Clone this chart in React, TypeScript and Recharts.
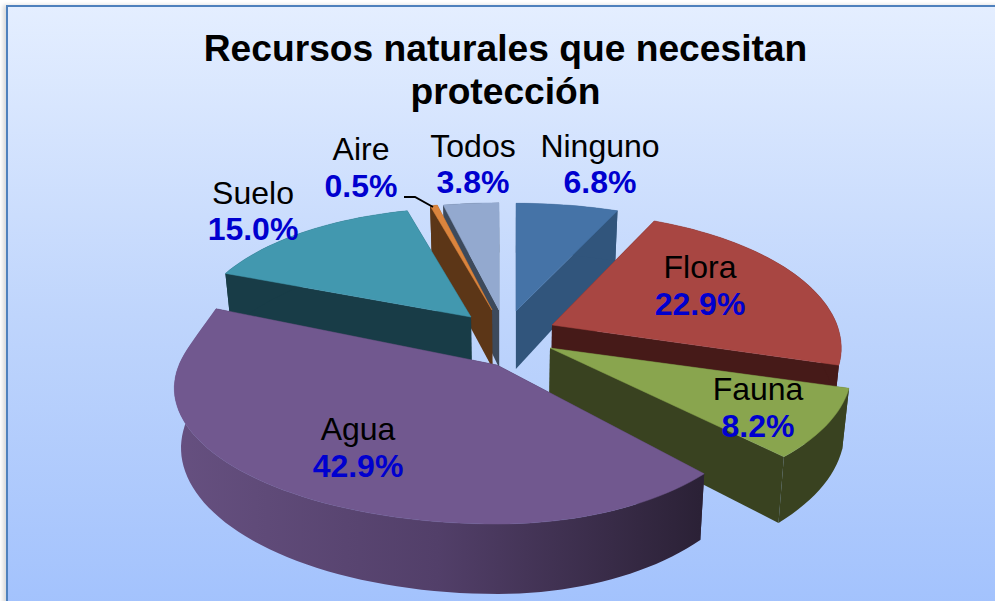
import { Pie, PieChart } from "recharts";

const backCategories = ["Todos", "Aire", "Suelo"];
const backValues = [3.8, 0.5, 15.0];
const frontCategories = ["Ninguno", "Flora", "Fauna", "Agua"];
const frontValues = [6.8, 22.9, 8.2, 42.9];

const total = [...backValues, ...frontValues].reduce((a, b) => a + b, 0);
const sweep = (values: number[]) => (360 * values.reduce((a, b) => a + b, 0)) / total;

const backData = backCategories.map((name, i) => ({ name, value: backValues[i] }));
const frontData = frontCategories.map((name, i) => ({ name, value: frontValues[i] }));

const CX = 510;
const CY = 330;
const RADIUS = 289;
const TILT = 132;
const DEPTH = 58;
const PERSPECTIVE = 0.17;

type SliceStyle = {
  top: string;
  wall: string;
  dx: number;
  dy: number;
  left: number;
  right: number;
  back?: number;
};

const sliceStyles: Record<string, SliceStyle> = {
  Ninguno: { top: "#4573a7", wall: "#31557c", dx: 6, dy: -19, left: 283, right: 283, back: 0.955 },
  Flora: { top: "#a84642", wall: "#461a18", dx: 42, dy: -5, left: 285, right: 285 },
  Fauna: { top: "#89a54e", wall: "#394220", dx: 40, dy: 18, left: 297, right: 297 },
  Agua: { top: "#71588f", wall: "#2d2338", dx: -13, dy: 35, left: 318, right: 263, back: 3.3 },
  Suelo: { top: "#4298af", wall: "#183c47", dx: -39, dy: -13, left: 278, right: 278, back: 0.97 },
  Aire: { top: "#db843d", wall: "#5c3617", dx: -18, dy: -20, left: 270, right: 270, back: 0.95 },
  Todos: { top: "#93a9cf", wall: "#3d4a5c", dx: -11, dy: -20, left: 275, right: 275, back: 0.95 },
};

const labelSpots: Record<string, { x: number; name: number; value: number }> = {
  Ninguno: { x: 600, name: 157, value: 193 },
  Todos: { x: 473, name: 157, value: 193 },
  Aire: { x: 361, name: 160, value: 197 },
  Suelo: { x: 253, name: 204, value: 240 },
  Flora: { x: 700, name: 278, value: 315 },
  Fauna: { x: 758, name: 400, value: 437 },
  Agua: { x: 358, name: 440, value: 477 },
};

function project(style: SliceStyle, angle: number, edge: number, z: number) {
  const rad = (angle * Math.PI) / 180;
  const X = Math.cos(rad) * edge;
  const Y = -Math.sin(rad) * edge;
  const s = 1 / (1 - PERSPECTIVE * Y);
  const ax = CX + style.dx;
  const ay = CY + style.dy;
  const rx = X < 0 ? style.left : style.right;
  // the back half of some slices sits a little off the plain ellipse
  const ry = Y < 0 ? TILT * (1 + ((style.back ?? 1) - 1) * Y * Y) : TILT;
  const x = ax + rx * X * s;
  const y = ay + ry * Y * s + z * DEPTH * s;
  return { x: z ? CX + (x - CX) * 0.98 : x, y };
}

function toPath(points: { x: number; y: number }[]) {
  return points.map((p, i) => `${i ? "L" : "M"}${p.x.toFixed(1)} ${p.y.toFixed(1)}`).join(" ") + " Z";
}

function Slice(props: any) {
  const { startAngle, endAngle, name } = props;
  const style = sliceStyles[name];
  const steps = Math.max(2, Math.ceil(Math.abs(endAngle - startAngle) / 2));
  const angles = Array.from({ length: steps + 1 }, (_, i) => startAngle + ((endAngle - startAngle) * i) / steps);
  const rimTop = angles.map((a) => project(style, a, 1, 0));
  const rimBottom = angles.map((a) => project(style, a, 1, 1));
  const apexTop = project(style, 0, 0, 0);
  const apexBottom = project(style, 0, 0, 1);
  const wallFill = name === "Agua" ? "url(#aguaWall)" : style.wall;
  return (
    <g>
      <path d={toPath([apexTop, rimTop[0], rimBottom[0], apexBottom])} fill={style.wall} />
      <path
        d={toPath([apexTop, rimTop[steps], rimBottom[steps], apexBottom])}
        fill={style.wall}
      />
      <path d={toPath([...rimTop, ...[...rimBottom].reverse()])} fill={wallFill} />
      <path d={toPath([apexTop, ...rimTop])} fill={style.top} stroke={style.top} strokeWidth={0.5} />
    </g>
  );
}

function SliceLabel(props: any) {
  const name = props.payload?.name ?? props.name;
  const spot = labelSpots[name];
  return (
    <g>
      {name === "Aire" && <polyline points="404,197 415,197 433,207" fill="none" stroke="#000" strokeWidth={2} />}
      <text x={spot.x} y={spot.name} textAnchor="middle" fontSize={32} fill="#000">
        {name}
      </text>
      <text x={spot.x} y={spot.value} textAnchor="middle" fontSize={32} fontWeight="bold" fill="#0000cf">
        {`${props.value.toFixed(1)}%`}
      </text>
    </g>
  );
}

export default function App() {
  return (
    <div style={{ position: "absolute", left: 0, top: 0, width: 995, height: 601, overflow: "hidden", background: "#fff", fontFamily: "'Liberation Sans', Arial, sans-serif" }}>
      <div
        style={{
          position: "absolute",
          left: 6,
          top: 5,
          width: 1000,
          height: 620,
          boxSizing: "border-box",
          border: "2px solid #4f81bd",
          background: "linear-gradient(180deg, #e4eeff 0%, #bfd5fc 50%, #a1c1fd 100%)",
          boxShadow: "-3px 0 4px rgba(0,0,0,0.15)",
        }}
      />
      <div style={{ position: "absolute", left: 0, top: 27, width: 1011, textAlign: "center", fontSize: 37.2, lineHeight: "43px", fontWeight: "bold", color: "#000" }}>
        Recursos naturales que necesitan
        <br />
        protección
      </div>
      <div style={{ position: "absolute", left: 0, top: 0 }}>
        <PieChart width={995} height={601} margin={{ top: 0, right: 0, bottom: 0, left: 0 }}>
          <defs>
            <linearGradient id="aguaWall" gradientUnits="userSpaceOnUse" x1={176} y1={0} x2={700} y2={0}>
              <stop offset="0%" stopColor="#665080" />
              <stop offset="50%" stopColor="#523f69" />
              <stop offset="100%" stopColor="#2b2136" />
            </linearGradient>
          </defs>
          <Pie
            data={backData}
            dataKey="value"
            nameKey="name"
            cx={CX}
            cy={CY}
            outerRadius={RADIUS}
            startAngle={90}
            endAngle={90 + sweep(backValues)}
            shape={Slice}
            label={SliceLabel}
            labelLine={false}
            isAnimationActive={false}
          />
          <Pie
            data={frontData}
            dataKey="value"
            nameKey="name"
            cx={CX}
            cy={CY}
            outerRadius={RADIUS}
            startAngle={90}
            endAngle={90 - sweep(frontValues)}
            shape={Slice}
            label={SliceLabel}
            labelLine={false}
            isAnimationActive={false}
          />
        </PieChart>
      </div>
    </div>
  );
}
